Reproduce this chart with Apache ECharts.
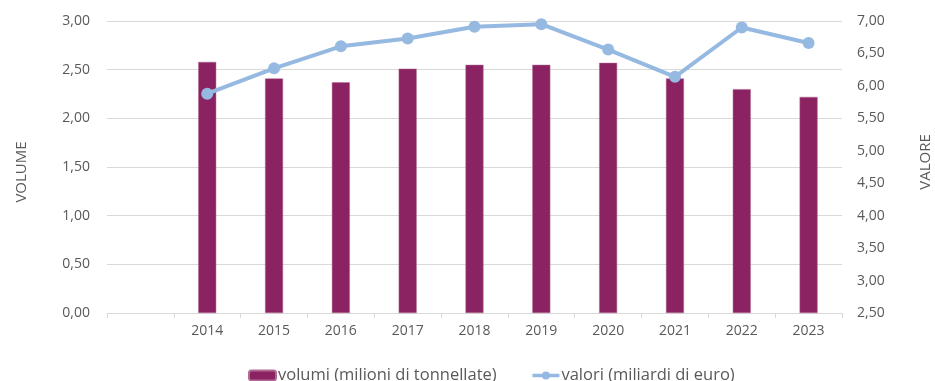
<!DOCTYPE html>
<html>
<head>
<meta charset="utf-8">
<script src="https://cdn.jsdelivr.net/npm/echarts@6/dist/echarts.min.js"></script>
<style>html,body{margin:0;padding:0;background:#fff}#c{width:935px;height:381px}</style>
</head>
<body>
<div id="c"></div>
<script>
const categories = ['', '2014', '2015', '2016', '2017', '2018', '2019', '2020', '2021', '2022', '2023'];
const volumi = [null, 2.58, 2.41, 2.37, 2.51, 2.55, 2.55, 2.57, 2.41, 2.30, 2.22];
const valori = [null, 5.88, 6.27, 6.61, 6.73, 6.91, 6.95, 6.56, 6.14, 6.90, 6.66];
const seriesNames = ['volumi (milioni di tonnellate)', 'valori (miliardi di euro)'];
const leftAxisName = 'VOLUME';
const rightAxisName = 'VALORE';

const FONT = 'Open Sans';
const TXT = '#595959';
const fmt = v => v.toFixed(2).replace('.', ',');

const chart = echarts.init(document.getElementById('c'), null, {renderer: 'canvas'});
chart.setOption({
  animation: false,
  textStyle: {fontFamily: FONT},
  grid: {left: 107, right: 93, top: 21, bottom: 68, containLabel: false, outerBoundsMode: 'none'},
  legend: {
    left: 243, top: 362,
    itemWidth: 27, itemHeight: 10, itemGap: 34,
    lineStyle: {width: 3.5},
    textStyle: {fontFamily: FONT, fontSize: 16.5, color: TXT, padding: [0, 0, 0, -3]},
    data: seriesNames
  },
  xAxis: {
    type: 'category', data: categories, boundaryGap: true,
    axisLine: {lineStyle: {color: '#D9D9D9', width: 1}},
    axisTick: {show: true, length: 5, lineStyle: {color: '#D9D9D9'}},
    axisLabel: {color: TXT, fontSize: 14, fontFamily: FONT, margin: 11}
  },
  yAxis: [{
    type: 'value', min: 0, max: 3, interval: 0.5,
    name: leftAxisName, nameLocation: 'middle', nameGap: 78, nameRotate: 90,
    nameTextStyle: {color: TXT, fontSize: 15, fontFamily: FONT, padding: [0, 10, 0, 0]},
    axisLine: {show: false}, axisTick: {show: false},
    splitLine: {lineStyle: {color: '#D9D9D9', width: 1}},
    axisLabel: {color: TXT, fontSize: 14, fontFamily: FONT, margin: 17, formatter: fmt}
  }, {
    type: 'value', min: 2.5, max: 7, interval: 0.5,
    name: rightAxisName, nameLocation: 'middle', nameGap: 76, nameRotate: 90,
    nameTextStyle: {color: TXT, fontSize: 15, fontFamily: FONT, padding: [0, 0, 0, 10]},
    axisLine: {show: false}, axisTick: {show: false},
    splitLine: {show: false},
    axisLabel: {color: TXT, fontSize: 14, fontFamily: FONT, margin: 15, formatter: fmt}
  }],
  series: [{
    name: seriesNames[0], type: 'bar', yAxisIndex: 0, data: volumi,
    barWidth: 18,
    itemStyle: {color: '#8B2262', borderColor: '#B06A94', borderWidth: 0.5}
  }, {
    name: seriesNames[1], type: 'line', yAxisIndex: 1, data: valori,
    symbol: 'circle', symbolSize: 12,
    lineStyle: {color: '#95B9E1', width: 4},
    itemStyle: {color: '#95B9E1'}
  }]
});
</script>
</body>
</html>
